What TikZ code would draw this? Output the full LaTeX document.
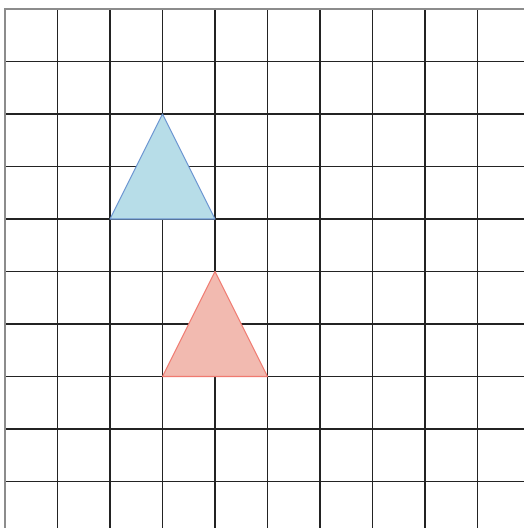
\documentclass[tikz,border=0pt]{standalone}
\definecolor{gridc}{RGB}{35,35,35}
\definecolor{borderc}{RGB}{140,140,140}
\definecolor{bluefill}{RGB}{183,221,232}
\definecolor{bluedraw}{RGB}{108,150,210}
\definecolor{redfill}{RGB}{242,186,176}
\definecolor{reddraw}{RGB}{240,122,112}
\begin{document}
\begin{tikzpicture}[x=1pt,y=-1pt,
  gridline/.style={draw=gridc,line width=1.2pt},
  borderline/.style={draw=borderc,line width=2pt},
  tri/.style={line width=1.1pt,line join=round}]
\useasboundingbox (0,0) rectangle (524,528);
\foreach \i in {1,...,9} {
  \draw[gridline] ({5+52.5*\i},9) -- ({5+52.5*\i},528);
  \draw[gridline] (5,{9+52.5*\i}) -- (524,{9+52.5*\i});
}
\draw[borderline] (5,528) -- (5,9) -- (524,9);
\draw[tri,fill=bluefill,draw=bluedraw] (162.5,114) -- (215,219) -- (110,219) -- cycle;
\draw[tri,fill=redfill,draw=reddraw] (215,271.5) -- (267.5,376.5) -- (162.5,376.5) -- cycle;
\end{tikzpicture}
\end{document}
